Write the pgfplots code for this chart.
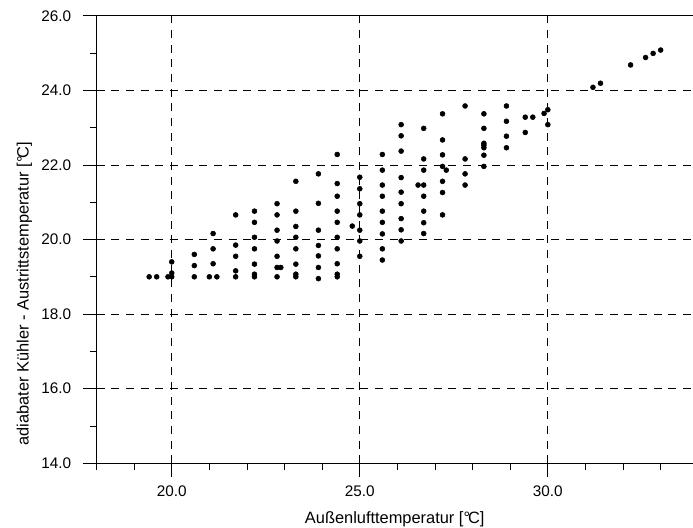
\documentclass[border=0pt]{standalone}
\usepackage{fontspec}
\setmainfont{Liberation Sans}
\usepackage{pgfplots}
\pgfplotsset{compat=1.18}

\begin{document}
\begin{tikzpicture}
\begin{axis}[
    scale only axis,
    width=447.4pt, height=335.7pt,
    xmin=18, xmax=33.86, ymin=14, ymax=26,
    axis x line*=box, axis y line*=left,
    xtick pos=lower, ytick pos=left,
    xtick={20,25,30}, minor xtick={18,...,33},
    ytick={14,16,...,26}, minor ytick={15,17,...,25},
    tick align=outside,
    major tick length=10.5pt, minor tick length=5pt,
    every tick/.style={black, line width=0.6pt},
    axis line style={black, line width=0.7pt},
    grid=major,
    major grid style={black, line width=0.6pt, dash pattern=on 6pt off 5pt},
    /pgf/number format/.cd, fixed, fixed zerofill, precision=1,
        assume math mode=true, /pgfplots/.cd,
    ticklabel style={font=\fontsize{11.5}{13}\selectfont},
    xticklabel style={yshift=-3pt},
    yticklabel style={xshift=-5pt},
    label style={font=\fontsize{12.3}{14}\selectfont},
    xlabel={Außenlufttemperatur [°\kern-0.12em C]},
    ylabel={adiabater Kühler - Austrittstemperatur [°\kern-0.12em C]},
    xlabel style={yshift=-4pt},
    ylabel style={at={(ticklabel cs:0.40)}, xshift=-7pt},
    clip=false,
]
\addplot[only marks, mark=*, mark size=1.85pt, black] coordinates {
    (19.4,19.0) (19.6,19.0) (19.9,19.0)
    (20.0,19.0) (20.0,19.1) (20.0,19.4)
    (20.6,19.0) (20.6,19.3) (20.6,19.6)
    (21.0,19.0) (21.2,19.0) (21.1,19.35) (21.1,19.75) (21.1,20.16)
    (21.7,19.0) (21.7,19.16) (21.7,19.55) (21.7,19.85) (21.7,20.66)
    (22.2,19.0) (22.2,19.07) (22.2,19.34) (22.2,19.75) (22.2,20.06) (22.2,20.46) (22.2,20.76)
    (22.8,19.0) (22.8,19.25) (22.9,19.25) (22.8,19.55) (22.8,19.96) (22.8,20.25) (22.8,20.66) (22.8,20.96)
    (23.3,19.0) (23.3,19.07) (23.3,19.34) (23.3,19.75) (23.3,20.06) (23.3,20.35) (23.3,20.76) (23.3,21.56)
    (23.9,18.95) (23.9,19.25) (23.9,19.56) (23.9,19.84) (23.9,20.25) (23.9,20.97) (23.9,21.76)
    (24.4,19.0) (24.4,19.07) (24.4,19.35) (24.4,19.75) (24.4,20.06) (24.4,20.46) (24.4,20.76) (24.4,21.16) (24.4,21.5) (24.4,22.28)
    (24.8,20.36)
    (25.0,19.55) (25.0,19.96) (25.0,20.25) (25.0,20.66) (25.0,20.96) (25.0,21.36) (25.0,21.67)
    (25.6,19.45) (25.6,19.75) (25.6,20.15) (25.6,20.46) (25.6,20.76) (25.6,21.16) (25.6,21.46) (25.6,21.86) (25.6,22.28)
    (26.1,19.96) (26.1,20.26) (26.1,20.56) (26.1,20.96) (26.1,21.27) (26.1,21.66) (26.1,22.37) (26.1,22.78) (26.1,23.08)
    (26.55,21.46)
    (26.7,20.16) (26.7,20.45) (26.7,20.76) (26.7,21.16) (26.7,21.46) (26.7,21.86) (26.7,22.16) (26.7,22.98)
    (27.2,20.66) (27.2,21.26) (27.2,21.56) (27.2,21.96) (27.2,22.27) (27.2,22.67) (27.2,23.37) (27.3,21.86)
    (27.8,21.46) (27.8,21.76) (27.8,22.16) (27.8,23.58)
    (28.3,21.96) (28.3,22.26) (28.3,22.46) (28.3,22.53) (28.3,22.58) (28.3,22.98) (28.3,23.37)
    (28.9,22.46) (28.9,22.77) (28.9,23.17) (28.9,23.58)
    (29.4,22.87) (29.4,23.28) (29.6,23.28)
    (29.9,23.38) (30.0,23.08) (30.0,23.48)
    (31.2,24.08) (31.4,24.19)
    (32.2,24.68) (32.6,24.88) (32.8,24.99) (33.0,25.08)
};
\end{axis}
\pgfresetboundingbox
\path[use as bounding box] ([shift={(-72.4pt,-47.8pt)}]current axis.south west)
    rectangle ([shift={(0pt,11.8pt)}]current axis.north east);
\end{tikzpicture}
\end{document}
